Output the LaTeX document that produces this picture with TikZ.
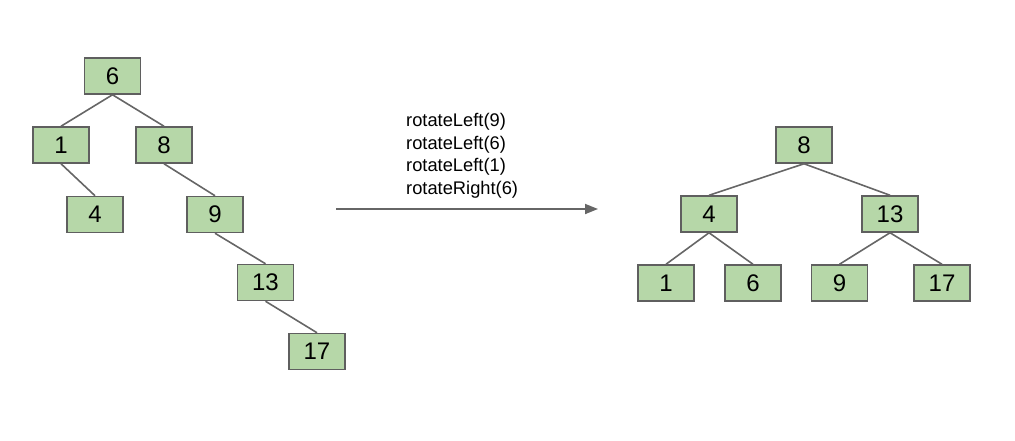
\documentclass[tikz,border=0pt]{standalone}
\usepackage{fontspec}
\setmainfont{Liberation Sans}
\usetikzlibrary{arrows.meta}
\definecolor{boxfill}{HTML}{B6D7A8}
\definecolor{boxdraw}{HTML}{5F5F5F}
\definecolor{linegrey}{HTML}{666666}
\tikzset{
  treebox/.style={rectangle, draw=boxdraw, fill=boxfill, line width=1.5pt,
    minimum width=56pt, minimum height=36pt, inner sep=0pt,
    font=\fontsize{24}{28}\selectfont},
  treeedge/.style={draw=linegrey, line width=1.6pt},
  oplabel/.style={anchor=base west, inner sep=0pt, font=\fontsize{18.3}{22}\selectfont},
  oparrow/.style={draw=linegrey, line width=1.8pt, -{Triangle[length=13pt,width=10pt]}}
}
\begin{document}
\begin{tikzpicture}[x=1pt,y=-1pt]
\useasboundingbox (0,0) rectangle (1015,440);
% left tree
\node[treebox] (a6)  at (112.5,76) {6};
\node[treebox] (a1)  at (61,145) {1};
\node[treebox] (a8)  at (164,145) {8};
\node[treebox] (a4)  at (95,214.5) {4};
\node[treebox] (a9)  at (215,214.5) {9};
\node[treebox] (a13) at (265.5,282.5) {13};
\node[treebox] (a17) at (317,351.5) {17};
\draw[treeedge] (a6.south) -- (a1.north);
\draw[treeedge] (a6.south) -- (a8.north);
\draw[treeedge] (a1.south) -- (a4.north);
\draw[treeedge] (a8.south) -- (a9.north);
\draw[treeedge] (a9.south) -- (a13.north);
\draw[treeedge] (a13.south) -- (a17.north);
% operations
\node[oplabel] (l1) at (406,126.7) {rotateLeft(9)};
\node[oplabel] (l2) at (406,149.2) {rotateLeft(6)};
\node[oplabel] (l3) at (406,171.7) {rotateLeft(1)};
\node[oplabel] (l4) at (406,194.2) {rotateRight(6)};
\coordinate (as) at (336,209);
\coordinate (ae) at (598,209);
\draw[oparrow] (as) -- (ae);
% right tree
\node[treebox] (b8)  at (804,145) {8};
\node[treebox] (b4)  at (709,214) {4};
\node[treebox] (b13) at (890,214) {13};
\node[treebox] (b1)  at (666,283) {1};
\node[treebox] (b6)  at (753,283) {6};
\node[treebox] (b9)  at (839.5,283) {9};
\node[treebox] (b17) at (942,283) {17};
\draw[treeedge] (b8.south) -- (b4.north);
\draw[treeedge] (b8.south) -- (b13.north);
\draw[treeedge] (b4.south) -- (b1.north);
\draw[treeedge] (b4.south) -- (b6.north);
\draw[treeedge] (b13.south) -- (b9.north);
\draw[treeedge] (b13.south) -- (b17.north);
\end{tikzpicture}
\end{document}
